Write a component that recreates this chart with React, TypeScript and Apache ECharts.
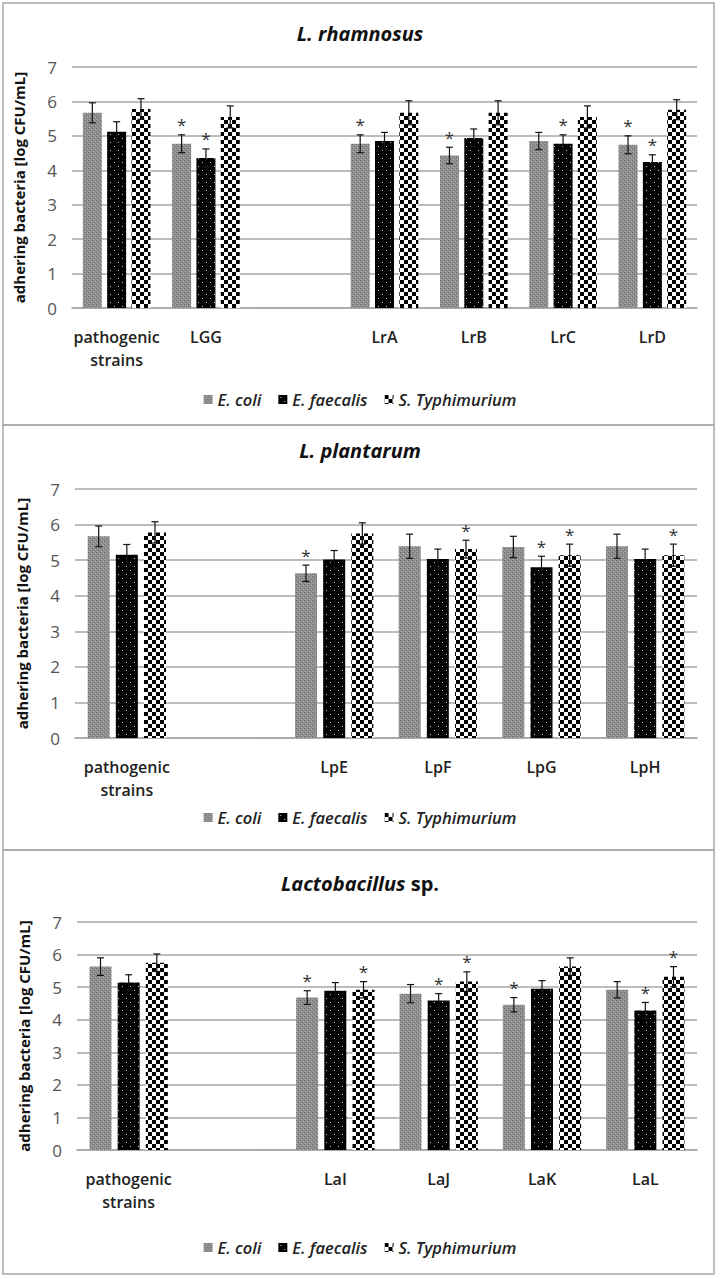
import React, { useEffect, useRef } from 'react';
import * as echarts from 'echarts';

const seriesNames = ['E. coli', 'E. faecalis', 'S. Typhimurium'];
const yAxisName = 'adhering bacteria [log CFU/mL]';
const yMin = 0;
const yMax = 7;
const yInterval = 1;

// Panel 1 – L. rhamnosus
const p1Title = 'L. rhamnosus';
const p1Categories = ['pathogenic\nstrains', 'LGG', '', 'LrA', 'LrB', 'LrC', 'LrD'];
const p1EColi = [5.67, 4.77, null, 4.77, 4.43, 4.85, 4.74];
const p1EColiErr = [0.29, 0.26, null, 0.26, 0.24, 0.25, 0.26];
const p1EColiStar = [0, 1, 0, 1, 1, 0, 1];
const p1EFaecalis = [5.12, 4.36, null, 4.85, 4.94, 4.77, 4.24];
const p1EFaecalisErr = [0.29, 0.26, null, 0.25, 0.26, 0.26, 0.21];
const p1EFaecalisStar = [0, 1, 0, 0, 0, 1, 1];
const p1STyph = [5.78, 5.55, null, 5.67, 5.67, 5.55, 5.76];
const p1STyphErr = [0.3, 0.32, null, 0.35, 0.35, 0.32, 0.29];
const p1STyphStar = [0, 0, 0, 0, 0, 0, 0];

// Panel 2 – L. plantarum
const p2Title = 'L. plantarum';
const p2Categories = ['pathogenic\nstrains', '', 'LpE', 'LpF', 'LpG', 'LpH'];
const p2EColi = [5.67, null, 4.63, 5.39, 5.37, 5.39];
const p2EColiErr = [0.29, null, 0.23, 0.34, 0.3, 0.34];
const p2EColiStar = [0, 0, 1, 0, 0, 0];
const p2EFaecalis = [5.15, null, 5.02, 5.03, 4.8, 5.03];
const p2EFaecalisErr = [0.29, null, 0.25, 0.28, 0.31, 0.28];
const p2EFaecalisStar = [0, 0, 0, 0, 1, 0];
const p2STyph = [5.78, null, 5.75, 5.31, 5.14, 5.14];
const p2STyphErr = [0.3, null, 0.3, 0.25, 0.31, 0.31];
const p2STyphStar = [0, 0, 0, 1, 1, 1];

// Panel 3 – Lactobacillus sp.
const p3TitleItalic = 'Lactobacillus';
const p3TitleNormal = 'sp.';
const p3Categories = ['pathogenic\nstrains', '', 'LaI', 'LaJ', 'LaK', 'LaL'];
const p3EColi = [5.63, null, 4.68, 4.8, 4.46, 4.92];
const p3EColiErr = [0.27, null, 0.21, 0.28, 0.22, 0.25];
const p3EColiStar = [0, 0, 1, 0, 1, 0];
const p3EFaecalis = [5.14, null, 4.89, 4.59, 4.95, 4.28];
const p3EFaecalisErr = [0.24, null, 0.25, 0.21, 0.25, 0.25];
const p3EFaecalisStar = [0, 0, 0, 1, 0, 1];
const p3STyph = [5.75, null, 4.92, 5.17, 5.63, 5.32];
const p3STyphErr = [0.27, null, 0.25, 0.3, 0.27, 0.31];
const p3STyphStar = [0, 0, 1, 1, 0, 1];

const FONT = '"Open Sans", "Noto Sans", sans-serif';

function makeTile(size: number, draw: (ctx: CanvasRenderingContext2D) => void) {
  const c = document.createElement('canvas');
  c.width = size;
  c.height = size;
  const ctx = c.getContext('2d')!;
  draw(ctx);
  return { image: c, repeat: 'repeat', imageWidth: size, imageHeight: size };
}

function makePatterns() {
  const grey = makeTile(4, (ctx) => {
    ctx.fillStyle = '#8e8e8e';
    ctx.fillRect(0, 0, 4, 4);
    ctx.fillStyle = '#6f6f6f';
    ctx.fillRect(0, 0, 1, 1);
    ctx.fillRect(2, 2, 1, 1);
    ctx.fillStyle = '#adadad';
    ctx.fillRect(1, 3, 1, 1);
    ctx.fillRect(3, 1, 1, 1);
  });
  const dots = makeTile(8, (ctx) => {
    ctx.fillStyle = '#000000';
    ctx.fillRect(0, 0, 8, 8);
    ctx.fillStyle = '#d0d0d0';
    ctx.fillRect(2, 2, 1, 1);
    ctx.fillRect(6, 6, 1, 1);
  });
  const checker = makeTile(8, (ctx) => {
    ctx.fillStyle = '#ffffff';
    ctx.fillRect(0, 0, 8, 8);
    ctx.fillStyle = '#000000';
    ctx.fillRect(0, 0, 4, 4);
    ctx.fillRect(4, 4, 4, 4);
  });
  return [grey, dots, checker];
}

const layouts = [
  { grid: { left: 72, top: 67, width: 625, height: 241 }, barWidth: 19, titleTop: 18, legendTop: 386, frame: { x: 3, y: 3, w: 711, h: 422 } },
  { grid: { left: 75, top: 489, width: 622, height: 249 }, barWidth: 22, titleTop: 435, legendTop: 804, frame: { x: 3, y: 425, w: 711, h: 425 } },
  { grid: { left: 77, top: 922, width: 620, height: 228 }, barWidth: 22, titleTop: 868, legendTop: 1234, frame: { x: 3, y: 850, w: 711, h: 424 } },
];

const BAR_GAP = 0.28;

export default function App() {
  const ref = useRef<HTMLDivElement>(null);
  useEffect(() => {
    if (!ref.current) return;
    const chart = echarts.init(ref.current, undefined, { renderer: 'svg' });
    const patterns = makePatterns();

    const panels = [
      {
        cats: p1Categories,
        values: [p1EColi, p1EFaecalis, p1STyph],
        errs: [p1EColiErr, p1EFaecalisErr, p1STyphErr],
        stars: [p1EColiStar, p1EFaecalisStar, p1STyphStar],
      },
      {
        cats: p2Categories,
        values: [p2EColi, p2EFaecalis, p2STyph],
        errs: [p2EColiErr, p2EFaecalisErr, p2STyphErr],
        stars: [p2EColiStar, p2EFaecalisStar, p2STyphStar],
      },
      {
        cats: p3Categories,
        values: [p3EColi, p3EFaecalis, p3STyph],
        errs: [p3EColiErr, p3EFaecalisErr, p3STyphErr],
        stars: [p3EColiStar, p3EFaecalisStar, p3STyphStar],
      },
    ];

    const titleStyle = { fontFamily: FONT, fontSize: 20, fontWeight: 'bold', fontStyle: 'italic', color: '#111' };

    const titles = [
      { text: p1Title, left: 'center', top: layouts[0].titleTop, textStyle: titleStyle },
      { text: p2Title, left: 'center', top: layouts[1].titleTop, textStyle: titleStyle },
      {
        text: '{i|' + p3TitleItalic + '} {n|' + p3TitleNormal + '}',
        left: 'center',
        top: layouts[2].titleTop,
        textStyle: {
          ...titleStyle,
          rich: {
            i: { fontFamily: FONT, fontSize: 20, fontWeight: 'bold', fontStyle: 'italic', color: '#111' },
            n: { fontFamily: FONT, fontSize: 20, fontWeight: 'bold', fontStyle: 'normal', color: '#111' },
          },
        },
      },
    ];

    const grids: any[] = [];
    const xAxes: any[] = [];
    const yAxes: any[] = [];
    const series: any[] = [];
    const legends: any[] = [];
    const graphics: any[] = [];

    panels.forEach((p, i) => {
      const L = layouts[i];
      grids.push({ ...L.grid, containLabel: false });
      xAxes.push({
        type: 'category',
        gridIndex: i,
        data: p.cats,
        axisLine: { show: true, lineStyle: { color: '#a6a6a6', width: 1.5 } },
        axisTick: { show: false },
        axisLabel: { interval: 0, color: '#222', fontSize: 16, fontWeight: 600, fontFamily: FONT, margin: 17, lineHeight: 23 },
      });
      yAxes.push({
        type: 'value',
        gridIndex: i,
        min: yMin,
        max: yMax,
        interval: yInterval,
        name: yAxisName,
        nameLocation: 'middle',
        nameGap: 46,
        nameRotate: 90,
        nameTextStyle: { fontFamily: FONT, fontSize: 15, fontWeight: 'bold', color: '#111' },
        axisLine: { show: false },
        axisTick: { show: false },
        axisLabel: { color: '#555', fontSize: 17, fontFamily: FONT, margin: 15 },
        splitLine: { lineStyle: { color: '#a6a6a6', width: 1.5 } },
      });
      seriesNames.forEach((name, j) => {
        series.push({
          name,
          type: 'bar',
          xAxisIndex: i,
          yAxisIndex: i,
          data: p.values[j],
          barWidth: L.barWidth,
          barGap: BAR_GAP * 100 + '%',
          itemStyle: { color: patterns[j] },
        });
      });
      const errData: any[] = [];
      p.values.forEach((vals, j) => {
        vals.forEach((v, k) => {
          if (v == null) return;
          errData.push([k, j, v, p.errs[j][k], p.stars[j][k]]);
        });
      });
      const bw = L.barWidth;
      series.push({
        type: 'custom',
        xAxisIndex: i,
        yAxisIndex: i,
        z: 5,
        silent: true,
        encode: { x: 0, y: 2 },
        data: errData,
        renderItem: (params: any, api: any) => {
          const cat = api.value(0);
          const s = api.value(1);
          const v = api.value(2);
          const e = api.value(3);
          const star = api.value(4);
          const c = api.coord([cat, v]);
          const x = c[0] + (s - 1) * bw * (1 + BAR_GAP);
          const yTop = api.coord([cat, v + e])[1];
          const yBot = api.coord([cat, v - e])[1];
          const cap = 3.5;
          const ls = { stroke: '#111', lineWidth: 1.2 };
          const children: any[] = [
            { type: 'line', shape: { x1: x, y1: yTop, x2: x, y2: yBot }, style: ls },
            { type: 'line', shape: { x1: x - cap, y1: yTop, x2: x + cap, y2: yTop }, style: ls },
            { type: 'line', shape: { x1: x - cap, y1: yBot, x2: x + cap, y2: yBot }, style: ls },
          ];
          if (star) {
            children.push({
              type: 'text',
              style: {
                text: '*',
                x,
                y: yTop - 10,
                textAlign: 'center',
                textVerticalAlign: 'middle',
                fontSize: 17,
                fontFamily: FONT,
                fill: '#333',
              },
            });
          }
          return { type: 'group', children };
        },
      });
      legends.push({
        data: seriesNames,
        left: 'center',
        top: L.legendTop,
        icon: 'rect',
        itemWidth: 9,
        itemHeight: 9,
        itemGap: 17,
        selectedMode: false,
        textStyle: { fontFamily: FONT, fontSize: 16.5, fontStyle: 'italic', fontWeight: 600, color: '#222' },
      });
      graphics.push({
        type: 'rect',
        shape: { x: L.frame.x, y: L.frame.y, width: L.frame.w, height: L.frame.h },
        style: { fill: 'none', stroke: '#a8a8a8', lineWidth: 1.5 },
        z: -10,
        silent: true,
      });
    });

    chart.setOption({
      animation: false,
      backgroundColor: '#ffffff',
      title: titles,
      grid: grids,
      xAxis: xAxes,
      yAxis: yAxes,
      legend: legends,
      series,
      graphic: graphics,
    });
    return () => chart.dispose();
  }, []);
  return <div ref={ref} style={{ position: 'absolute', left: 0, top: 0, width: 720, height: 1279 }} />;
}
